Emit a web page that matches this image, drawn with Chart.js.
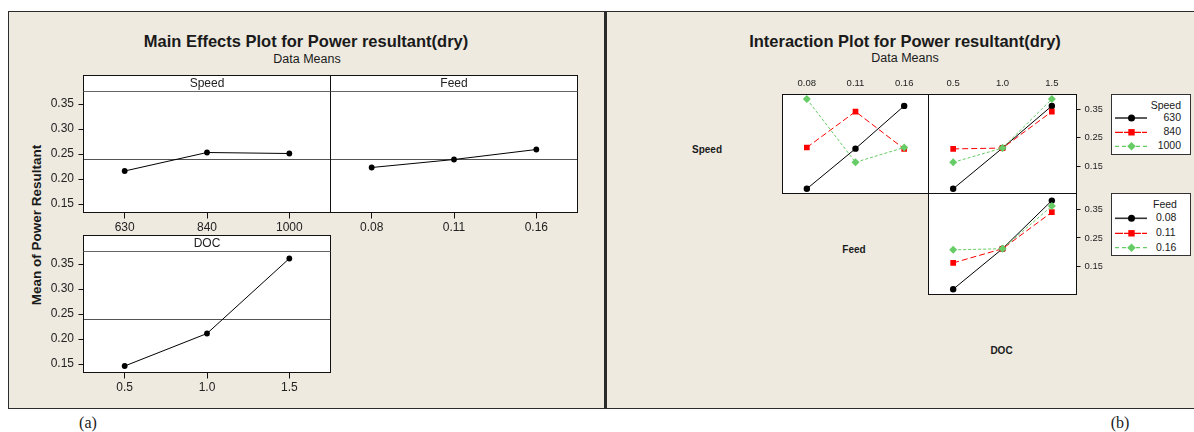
<!DOCTYPE html>
<html><head><meta charset="utf-8">
<script src="https://cdn.jsdelivr.net/npm/chart.js@4.4.1/dist/chart.umd.min.js"></script>
<style>
body{margin:0;width:1194px;height:432px;background:#fff;position:relative;overflow:hidden;font-family:"Liberation Sans",Arial,sans-serif;color:#1a1a1a}
.frame{position:absolute;box-sizing:border-box;background:#EEEAE0}
canvas{position:absolute;left:0;top:0}
.t{position:absolute;white-space:nowrap;transform:translate(-50%,-50%);line-height:1}
.lg{position:absolute;box-sizing:border-box;background:#fff;border:1px solid #333;font-size:10.5px}
.lg div{position:absolute;white-space:nowrap;line-height:1}
.lg svg{position:absolute;left:0;top:0}
</style></head><body>
<div class="frame" style="left:8px;top:11px;width:597px;height:398px;border:1px solid #2b2b2b;border-right:none"></div>
<div class="frame" style="left:604px;top:11px;width:590px;height:398px;border-top:1px solid #2b2b2b;border-bottom:1px solid #2b2b2b;border-left:3px solid #2b2b2b"></div>

<div class="t" style="left:306px;top:41px;font-weight:bold;font-size:16.5px">Main Effects Plot for Power resultant(dry)</div>
<div class="t" style="left:307px;top:58.5px;font-size:12.5px">Data Means</div>
<div class="t" style="left:36.5px;top:225px;font-weight:bold;font-size:13.5px;transform:translate(-50%,-50%) rotate(-90deg)">Mean of Power Resultant</div>
<div class="t" style="left:905px;top:41px;font-weight:bold;font-size:16.5px">Interaction Plot for Power resultant(dry)</div>
<div class="t" style="left:905px;top:58px;font-size:12.5px">Data Means</div>
<div class="t" style="left:707px;top:150px;font-weight:bold;font-size:10px">Speed</div>
<div class="t" style="left:854px;top:250px;font-weight:bold;font-size:10px">Feed</div>
<div class="t" style="left:1001.5px;top:351px;font-weight:bold;font-size:10px">DOC</div>
<div class="t" style="left:88px;top:423px;font-family:'Liberation Serif','Times New Roman',serif;font-size:16px">(a)</div>
<div class="t" style="left:1120px;top:423px;font-family:'Liberation Serif','Times New Roman',serif;font-size:16px">(b)</div>

<script>
// ---- data ----
const speedLevels = ['630', '840', '1000'];
const feedLevels = ['0.08', '0.11', '0.16'];
const docLevels = ['0.5', '1.0', '1.5'];

const meanBySpeed = [0.216, 0.253, 0.251];
const meanByFeed = [0.223, 0.239, 0.259];
const meanByDoc = [0.146, 0.211, 0.361];
const grandMean = 0.240;
const mainTicks = [0.15, 0.20, 0.25, 0.30, 0.35];
const interTicks = [0.15, 0.25, 0.35];

const speed630ByFeed = [0.070, 0.211, 0.361];
const speed840ByFeed = [0.215, 0.341, 0.210];
const speed1000ByFeed = [0.385, 0.163, 0.215];
const speed630ByDoc = [0.070, 0.213, 0.361];
const speed840ByDoc = [0.210, 0.213, 0.341];
const speed1000ByDoc = [0.163, 0.213, 0.385];
const feed008ByDoc = [0.069, 0.212, 0.382];
const feed011ByDoc = [0.162, 0.212, 0.341];
const feed016ByDoc = [0.208, 0.212, 0.363];

// ---- styles ----
const FONT = '"Liberation Sans", Arial, sans-serif';
Chart.defaults.font.family = FONT;
Chart.defaults.color = '#222';
const ST = [
  {color: '#000000', dash: [], style: 'circle', r: 3.2, order: 2},
  {color: '#FF0000', dash: [6, 3], style: 'rect', r: 4, order: 1},
  {color: '#66CC66', dash: [3, 2], style: 'rectRot', r: 4, order: 0}
];

const panelPlugin = {
  id: 'panel',
  beforeDraw(ch, args, o) {
    const a = ch.chartArea, c = ch.ctx;
    c.save(); c.fillStyle = '#fff';
    c.fillRect(a.left, a.top, a.right - a.left, a.bottom - a.top); c.restore();
  },
  beforeDatasetsDraw(ch, args, o) {
    if (o.ref == null) return;
    const a = ch.chartArea, c = ch.ctx;
    const y = Math.round(ch.scales.y.getPixelForValue(o.ref)) + 0.5;
    c.save(); c.strokeStyle = '#555'; c.lineWidth = 1;
    c.beginPath(); c.moveTo(a.left, y); c.lineTo(a.right, y); c.stroke(); c.restore();
  },
  afterDraw(ch, args, o) {
    const a = ch.chartArea, c = ch.ctx;
    c.save(); c.strokeStyle = '#111'; c.lineWidth = 1;
    c.strokeRect(a.left, a.top, a.right - a.left, a.bottom - a.top);
    if (o.strip) {
      const h = 16;
      c.fillStyle = '#fff';
      c.fillRect(a.left, a.top - h, a.right - a.left, h);
      c.strokeRect(a.left, a.top - h, a.right - a.left, h);
      c.strokeStyle = '#666';
      c.beginPath(); c.moveTo(a.left, a.top); c.lineTo(a.right, a.top); c.stroke();
      c.fillStyle = '#222'; c.font = '12px ' + FONT;
      c.textAlign = 'center'; c.textBaseline = 'middle';
      c.fillText(o.strip, (a.left + a.right) / 2, a.top - h / 2 + 0.5);
    }
    c.restore();
  }
};

function zeroPad(s) { s.paddingLeft = s.paddingRight = s.paddingTop = s.paddingBottom = 0; }

function panel(spec) {
  const W = 1194, H = 432;
  const cv = document.createElement('canvas');
  cv.width = W; cv.height = H; document.body.appendChild(cv);
  const {L, R, T, B, xPos, yPos} = spec;
  const xSize = xPos ? spec.xSize : 0, ySize = yPos ? spec.ySize : 0;
  const pad = {
    left: L - (yPos === 'left' ? ySize : 0),
    right: W - R - (yPos === 'right' ? ySize : 0),
    top: T - (xPos === 'top' ? xSize : 0),
    bottom: H - B - (xPos === 'bottom' ? xSize : 0)
  };
  new Chart(cv, {
    type: 'line',
    data: {labels: spec.labels, datasets: spec.datasets},
    plugins: [panelPlugin],
    options: {
      responsive: false, animation: false, events: [],
      layout: {padding: pad},
      plugins: {legend: {display: false}, title: {display: false}, tooltip: {enabled: false},
        panel: {strip: spec.strip, ref: spec.ref}},
      scales: {
        x: {
          type: 'category', offset: true, position: xPos || 'bottom', display: !!xPos,
          grid: {display: true, drawOnChartArea: false, drawTicks: spec.xTick > 0, tickLength: spec.xTick || 0, color: '#111'},
          border: {display: false},
          ticks: {autoSkip: false, maxRotation: 0, minRotation: 0, padding: spec.xPad, font: {size: spec.xFont}, color: '#222'},
          afterFit: s => { s.height = xSize; zeroPad(s); }
        },
        y: {
          type: 'linear', min: spec.min, max: spec.max, position: yPos || 'left', display: !!yPos,
          afterBuildTicks: s => { s.ticks = spec.ticks.map(v => ({value: v})); },
          grid: {display: true, drawOnChartArea: false, drawTicks: true, tickLength: spec.yTick, color: '#111'},
          border: {display: false},
          ticks: {padding: spec.yPad, font: {size: spec.yFont}, color: '#222', callback: v => Number(v).toFixed(2)},
          afterFit: s => { s.width = ySize; zeroPad(s); }
        }
      }
    }
  });
}

function mainDs(data) {
  return [{data, borderColor: '#000', borderWidth: 1, pointRadius: 2.9, pointBackgroundColor: '#000',
    pointBorderColor: '#000', pointBorderWidth: 0, tension: 0, fill: false}];
}
function interDs(series) {
  return series.map((d, i) => ({
    data: d, borderColor: ST[i].color, backgroundColor: ST[i].color, borderWidth: 1, borderDash: ST[i].dash,
    pointStyle: ST[i].style, pointRadius: ST[i].r, pointBackgroundColor: ST[i].color,
    pointBorderColor: ST[i].color, pointBorderWidth: 0, tension: 0, fill: false, order: ST[i].order
  }));
}

const mainCommon = {min: 0.133, max: 0.375, ticks: mainTicks, ref: grandMean,
  xPos: 'bottom', xSize: 27, xTick: 6, xPad: 1.5, xFont: 12, ySize: 43.5, yTick: 5, yPad: 4.5, yFont: 12};

panel(Object.assign({}, mainCommon, {L: 83.5, R: 330.5, T: 91.5, B: 212.5, yPos: 'left',
  labels: speedLevels, datasets: mainDs(meanBySpeed), strip: 'Speed'}));
panel(Object.assign({}, mainCommon, {L: 330.5, R: 577.5, T: 91.5, B: 212.5, yPos: null,
  labels: feedLevels, datasets: mainDs(meanByFeed), strip: 'Feed'}));
panel(Object.assign({}, mainCommon, {L: 83.5, R: 330.5, T: 251.5, B: 372.5, yPos: 'left',
  labels: docLevels, datasets: mainDs(meanByDoc), strip: 'DOC'}));

const interCommon = {ticks: interTicks, xSize: 17, xTick: 0, xPad: 5.4, xFont: 9.5, ySize: 26, yTick: 4, yPad: 4, yFont: 9.5};
panel(Object.assign({}, interCommon, {L: 782.5, R: 928.5, T: 94.5, B: 193.5, min: 0.0535, max: 0.401,
  xPos: 'top', yPos: null, labels: feedLevels,
  datasets: interDs([speed630ByFeed, speed840ByFeed, speed1000ByFeed])}));
panel(Object.assign({}, interCommon, {L: 928.5, R: 1076.5, T: 94.5, B: 193.5, min: 0.0535, max: 0.401,
  xPos: 'top', yPos: 'right', labels: docLevels,
  datasets: interDs([speed630ByDoc, speed840ByDoc, speed1000ByDoc])}));
panel(Object.assign({}, interCommon, {L: 928.5, R: 1076.5, T: 193.5, B: 294.5, min: 0.0504, max: 0.407,
  xPos: null, yPos: 'right', labels: docLevels,
  datasets: interDs([feed008ByDoc, feed011ByDoc, feed016ByDoc])}));

// ---- legends ----
function marker(st, cx, cy) {
  if (st.style === 'circle') return `<circle cx="${cx}" cy="${cy}" r="3.5" fill="${st.color}"/>`;
  if (st.style === 'rect') return `<rect x="${cx - 3.2}" y="${cy - 3.2}" width="6.4" height="6.4" fill="${st.color}"/>`;
  return `<polygon points="${cx},${cy - 4.3} ${cx + 4.3},${cy} ${cx},${cy + 4.3} ${cx - 4.3},${cy}" fill="${st.color}"/>`;
}
function legend(top, height, title, levels, rowsY, titleSpec, labelSpec) {
  const box = document.createElement('div');
  box.className = 'lg';
  box.style.cssText = `left:1111px;top:${top}px;width:80px;height:${height}px`;
  let svg = `<svg width="80" height="${height}">`;
  levels.forEach((lv, i) => {
    const st = ST[i], y = rowsY[i] - top - 1;
    const dash = i === 0 ? '' : (i === 1 ? 'stroke-dasharray="8 1"' : 'stroke-dasharray="4 3"');
    svg += `<line x1="3" y1="${y}" x2="35" y2="${y}" stroke="${i === 0 ? '#333' : st.color}" stroke-width="${i === 0 ? 1.6 : 1.2}" ${dash}/>`;
    svg += marker(st, 19.5, y);
  });
  svg += '</svg>';
  let html = svg;
  html += `<div style="${titleSpec};top:${5}px">${title}</div>`;
  levels.forEach((lv, i) => {
    html += `<div style="${labelSpec};top:${rowsY[i] - top - 1 - 6}px">${lv}</div>`;
  });
  box.innerHTML = html;
  document.body.appendChild(box);
}
legend(94, 61, 'Speed', speedLevels, [118, 132.3, 146.3], 'right:9px', 'right:9px');
legend(193, 63, 'Feed', feedLevels, [218.3, 233.3, 247.7], 'left:41px', 'left:44px');
</script>
</body></html>
